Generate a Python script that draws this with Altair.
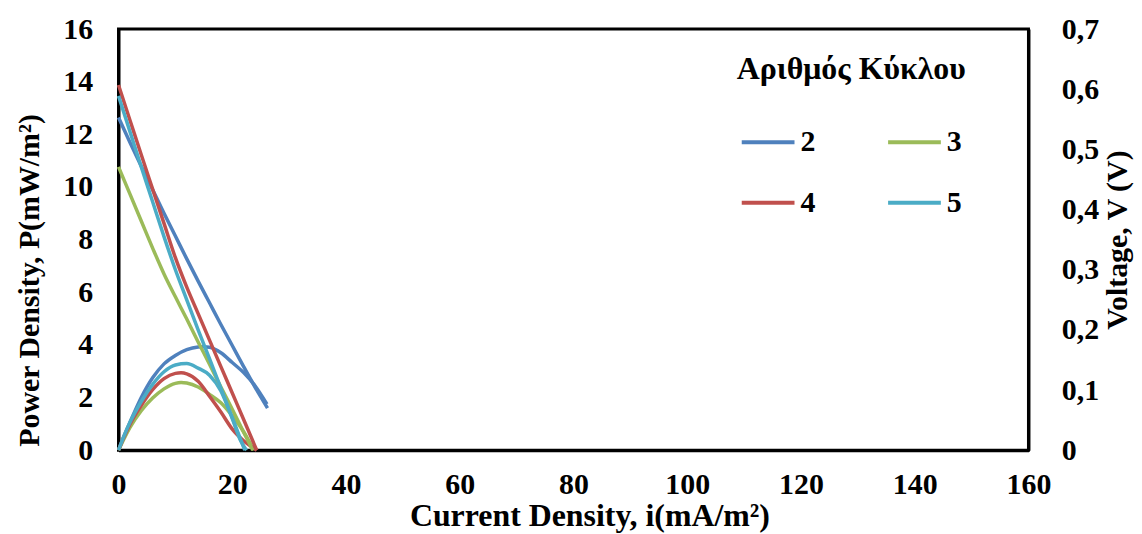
import altair as alt
import pandas as pd

FONT = "Liberation Serif"

cycles = ["2", "3", "4", "5"]
colors = ["#4F81BD", "#9BBB59", "#C0504D", "#4BACC6"]
x_ticks = [0, 20, 40, 60, 80, 100, 120, 140, 160]
p_ticks = [0, 2, 4, 6, 8, 10, 12, 14, 16]
v_ticks = [0, 0.1, 0.2, 0.3, 0.4, 0.5, 0.6, 0.7]

# Voltage curves (right axis), current density i in mA/m2, voltage in V
v_i_2 = [0, 2, 4, 6, 8, 10, 12, 14, 16, 18, 20, 22, 24, 26.2]
v_2 = [0.553, 0.512, 0.472, 0.433, 0.394, 0.356, 0.318, 0.281, 0.245, 0.209, 0.174, 0.139, 0.105, 0.070]
v_i_3 = [0, 2, 4, 6, 8, 10, 12, 14, 16, 18, 20, 22, 23.6]
v_3 = [0.471, 0.426, 0.381, 0.336, 0.293, 0.255, 0.218, 0.180, 0.143, 0.105, 0.068, 0.030, 0.0]
v_i_4 = [0, 2, 4, 6, 8, 10, 12, 14, 16, 18, 20, 22, 24.3]
v_4 = [0.607, 0.549, 0.491, 0.434, 0.377, 0.320, 0.271, 0.227, 0.183, 0.139, 0.095, 0.051, 0.0]
v_i_5 = [0, 2, 4, 6, 8, 10, 12, 14, 16, 18, 20, 22.2]
v_5 = [0.589, 0.530, 0.471, 0.413, 0.355, 0.300, 0.250, 0.200, 0.152, 0.103, 0.054, 0.0]

# Power density curves (left axis), mW/m2
p_i_2 = [0, 1, 2, 4, 6, 8, 10, 12, 14, 15, 16, 18, 20, 22, 24, 26.1]
p_2 = [0, 0.55, 1.05, 2.0, 2.75, 3.28, 3.60, 3.82, 3.92, 3.93, 3.91, 3.70, 3.33, 2.95, 2.45, 1.75]
p_i_3 = [0, 1, 2, 4, 6, 8, 10, 11, 12, 14, 16, 18, 20, 22, 23.8]
p_3 = [0, 0.45, 0.86, 1.50, 1.98, 2.33, 2.54, 2.57, 2.55, 2.40, 2.12, 1.80, 1.30, 0.70, 0.0]
p_i_4 = [0, 1, 2, 4, 6, 8, 10, 11, 12, 14, 16, 18, 20, 22, 24.3]
p_4 = [0, 0.52, 0.98, 1.70, 2.30, 2.72, 2.92, 2.94, 2.90, 2.62, 2.05, 1.45, 0.80, 0.36, 0.0]
p_i_5 = [0, 1, 2, 4, 6, 8, 10, 12, 14, 16, 18, 20, 21.5, 22.5]
p_5 = [0, 0.56, 1.05, 1.85, 2.50, 2.98, 3.24, 3.29, 3.12, 2.85, 2.25, 1.20, 0.35, 0.0]

v_sets = [(v_i_2, v_2), (v_i_3, v_3), (v_i_4, v_4), (v_i_5, v_5)]
p_sets = [(p_i_2, p_2), (p_i_3, p_3), (p_i_4, p_4), (p_i_5, p_5)]

v_rows, p_rows = [], []
for c, (xs, ys) in zip(cycles, v_sets):
    for x, y in zip(xs, ys):
        v_rows.append({"i": x, "V": y, "cycle": c})
for c, (xs, ys) in zip(cycles, p_sets):
    for x, y in zip(xs, ys):
        p_rows.append({"i": x, "P": y, "cycle": c})
df_v = pd.DataFrame(v_rows)
df_p = pd.DataFrame(p_rows)

legend = alt.Legend(
    title="Αριθμός Κύκλου",
    orient="none",
    direction="horizontal",
    legendX=621,
    legendY=25,
    columns=2,
    symbolType="stroke",
    symbolSize=2809,
    symbolStrokeWidth=4,
    labelFont=FONT,
    labelFontSize=30,
    labelFontWeight="bold",
    labelColor="black",
    labelOffset=4,
    titleFont=FONT,
    titleFontSize=32,
    titleFontWeight="bold",
    titleColor="black",
    titleAnchor="middle",
    titleLimit=500,
    titlePadding=28,
    columnPadding=65,
    rowPadding=17,
    padding=0,
)

color = alt.Color(
    "cycle:N",
    scale=alt.Scale(domain=cycles, range=colors),
    legend=legend,
)

x_enc = alt.X(
    "i:Q",
    scale=alt.Scale(domain=[0, 160], nice=False),
    axis=alt.Axis(
        values=x_ticks,
        title="Current Density, i(mA/m²)",
        labelPadding=19,
        labelFlush=False,
        titleX=473,
        titleY=76,
        titleFontSize=32,
        titleBaseline="alphabetic",
    ),
)

power = alt.Chart(df_p).mark_line(strokeWidth=3.5, interpolate="monotone").encode(
    x=x_enc,
    y=alt.Y(
        "P:Q",
        scale=alt.Scale(domain=[0, 16], nice=False),
        axis=alt.Axis(
            orient="left",
            values=p_ticks,
            title="Power Density, P(mW/m²)",
            labelPadding=26,
            titleAngle=270,
            titleX=-89,
            titleY=252,
            titleBaseline="middle",
        ),
    ),
    color=color,
)

voltage = alt.Chart(df_v).mark_line(strokeWidth=3.5, interpolate="monotone").encode(
    x=x_enc,
    y=alt.Y(
        "V:Q",
        scale=alt.Scale(domain=[0, 0.7], nice=False),
        axis=alt.Axis(
            orient="right",
            values=v_ticks,
            labelExpr="datum.value == 0 ? '0' : replace(format(datum.value, '.1f'), '.', ',')",
            title="Voltage, V (V)",
            labelPadding=33,
            titleAngle=270,
            titleX=89,
            titleBaseline="middle",
        ),
    ),
    color=color,
)

chart = (
    alt.layer(power, voltage)
    .resolve_scale(y="independent")
    .properties(
        width=914,
        height=423,
        padding={"left": 111, "top": 20, "right": 106, "bottom": 84},
        autosize=alt.AutoSizeParams(type="none"),
        background="white",
    )
    .configure_view(stroke="black", strokeWidth=3)
    .configure_axis(
        grid=False,
        ticks=False,
        domainColor="black",
        domainWidth=3,
        labelFont=FONT,
        labelFontSize=30,
        labelFontWeight="bold",
        labelColor="black",
        titleFont=FONT,
        titleFontSize=30,
        titleFontWeight="bold",
        titleColor="black",
    )
)

chart.save("out.html", embed_options={"renderer": "svg", "actions": False})
